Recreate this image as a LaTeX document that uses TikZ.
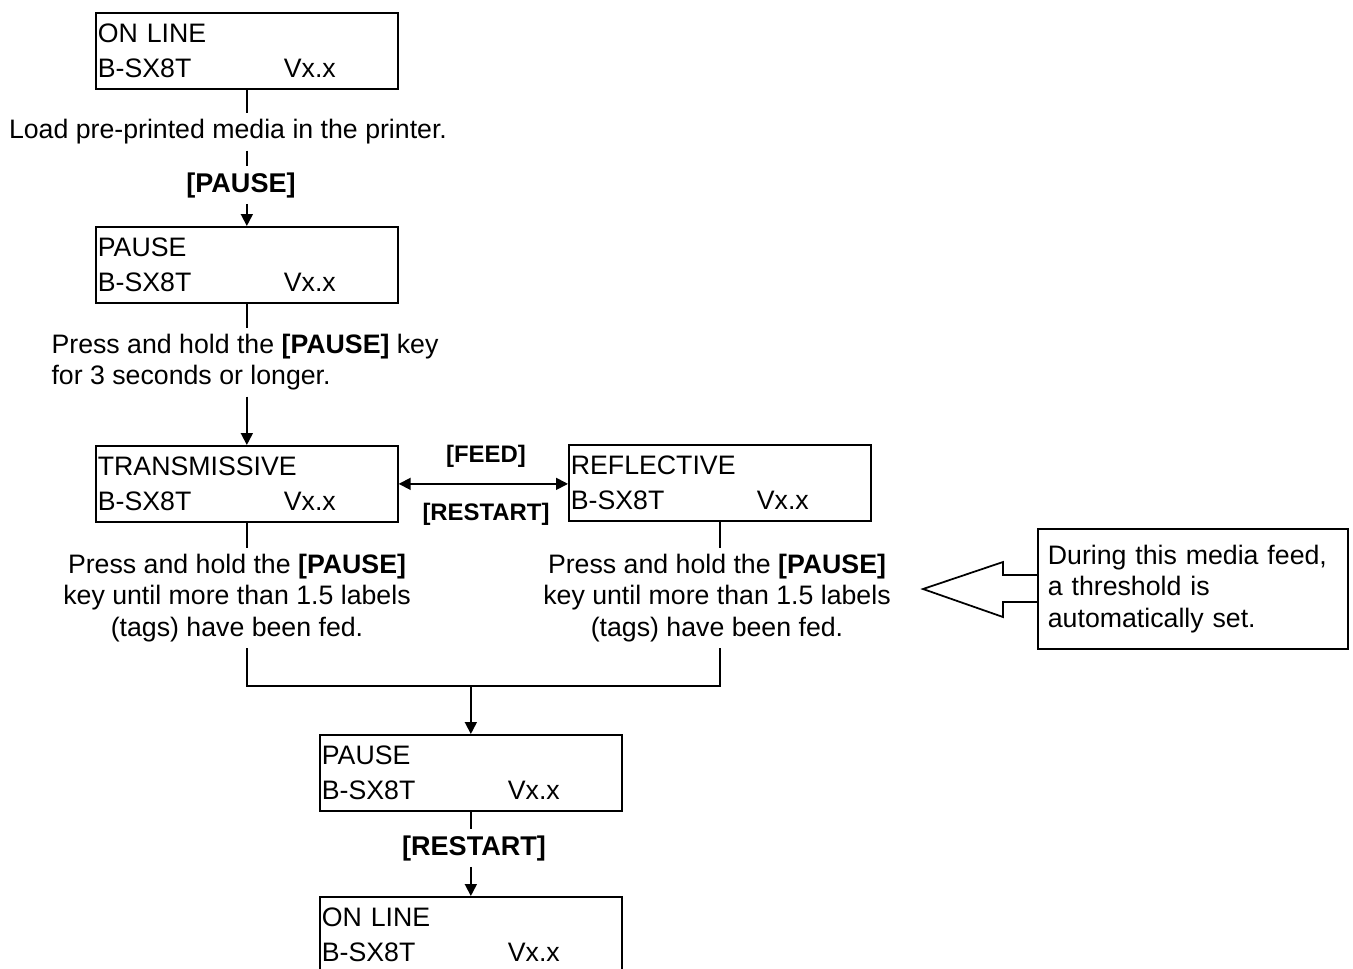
\documentclass[tikz,border=0pt]{standalone}
\usepackage{fontspec}
\setmainfont{Liberation Sans}
\usetikzlibrary{arrows.meta}

\newcommand{\lcdrow}[2]{\makebox[3.72cm][l]{#1}#2}

\begin{document}
\begin{tikzpicture}[x=0.02cm, y=-0.02cm, line width=1pt,
  lcd/.style={draw, rectangle, anchor=north west, align=left, text width=5.96cm, inner xsep=0.04cm, inner ysep=0pt, minimum height=1.52cm, font=\fontsize{15.2}{19.9}\selectfont},
  txt/.style={inner sep=3pt, font=\fontsize{15.2}{18.1}\selectfont},
  key/.style={inner sep=3pt, font=\fontsize{15.4}{17}\selectfont\bfseries},
  small key/.style={inner sep=2pt, font=\fontsize{13.6}{15}\selectfont\bfseries},
  arr/.style={-{Triangle[length=0.24cm, width=0.24cm]}},
  darr/.style={{Triangle[length=0.24cm, width=0.24cm]}-{Triangle[length=0.24cm, width=0.24cm]}}]
  \useasboundingbox (0,0) rectangle (1353,968);

  % Display boxes
  \node[lcd] (on1) at (95,12) {ON LINE\\\lcdrow{B-SX8T}{Vx.x}};
  \node[lcd] (pa1) at (95,226) {PAUSE\\\lcdrow{B-SX8T}{Vx.x}};
  \node[lcd] (tr) at (95,445) {TRANSMISSIVE\\\lcdrow{B-SX8T}{Vx.x}};
  \node[lcd] (rf) at (568,444) {REFLECTIVE\\\lcdrow{B-SX8T}{Vx.x}};
  \node[lcd] (pa2) at (319,734) {PAUSE\\\lcdrow{B-SX8T}{Vx.x}};
  \node[lcd] (on2) at (319,896) {ON LINE\\\lcdrow{B-SX8T}{Vx.x}};

  % Texts
  \node[txt] (load) at (228,132) {Load pre-printed media in the printer.};
  \node[key] (k1) at (241,185) {[PAUSE]};
  \node[txt, align=left] (hold) at (245,362) {Press and hold the \textbf{[PAUSE]} key\\for 3 seconds or longer.};
  \node[txt, align=center] (feedT) at (237,598) {Press and hold the \textbf{[PAUSE]}\\key until more than 1.5 labels\\(tags) have been fed.};
  \node[txt, align=center] (feedR) at (717,598) {Press and hold the \textbf{[PAUSE]}\\key until more than 1.5 labels\\(tags) have been fed.};
  \node[small key] (fd) at (486,456) {[FEED]};
  \node[small key] (rs1) at (486,514) {[RESTART]};
  \node[key] (rs2) at (474,848) {[RESTART]};
  \node[draw, txt, align=left, text width=5.8cm, inner xsep=0.2cm, minimum height=2.4cm, anchor=west] (note) at (1037,589) {During this media feed,\\a threshold is\\automatically set.};

  % Connectors
  \draw (on1.south) -- (on1.south |- load.north);
  \draw (on1.south |- load.south) -- (on1.south |- k1.north);
  \draw[arr] (on1.south |- k1.south) -- (pa1.north);
  \draw (pa1.south) -- (pa1.south |- hold.north);
  \draw[arr] (pa1.south |- hold.south) -- (tr.north);
  \draw[darr] (tr.east) -- (tr.east -| rf.west);
  \draw (tr.south) -- (tr.south |- feedT.north);
  \draw (rf.south) -- (rf.south |- feedR.north);
  \coordinate (jn) at (474,686);
  \draw (tr.south |- feedT.south) |- (jn) -| (rf.south |- feedR.south);
  \draw[arr] (pa2.north |- jn) -- (pa2.north);
  \draw (pa2.south) -- (pa2.south |- rs2.north);
  \draw[arr] (pa2.south |- rs2.south) -- (on2.north);

  % Hollow arrow to the note
  \draw (note.west) ++(0,-14) -- ++(-34,0) -- ++(0,-13) -- ++(-80,27) -- ++(80,28) -- ++(0,-15) -- ++(34,0);
\end{tikzpicture}
\end{document}
